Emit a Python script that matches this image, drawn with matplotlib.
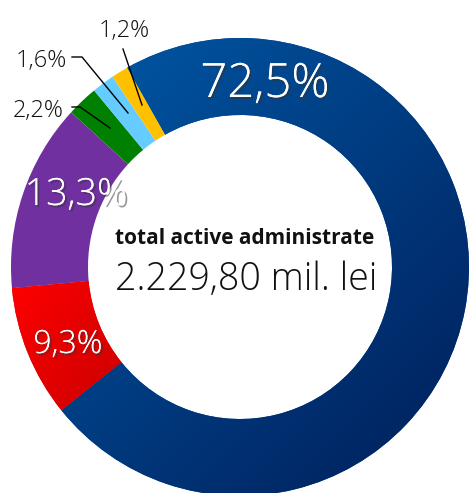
import numpy as np
import matplotlib
matplotlib.use("Agg")
from matplotlib import pyplot as plt
import matplotlib.patheffects as pe
from matplotlib.colors import LinearSegmentedColormap

# slices, clockwise from the top
labels = ["72,5%", "9,3%", "13,3%", "2,2%", "1,6%", "1,2%"]
shares = [72.5, 9.3, 13.3, 2.2, 1.6, 1.2]
colors = ["#00469a", "#e00000", "#7030a0", "#008000", "#66ccff", "#ffc000"]
title = "total active administrate"
total = "2.229,80 mil. lei"

W, H = 470, 493
cx, cy = 240, H - 267
R, ring = 229, 77

plt.rcParams["font.family"] = ["Open Sans", "DejaVu Sans"]

fig = plt.figure(figsize=(W / 100, H / 100), dpi=100)
ax = fig.add_axes([0, 0, 1, 1])

wedges, _ = ax.pie(shares, colors=colors, startangle=119.5, counterclock=False,
                   radius=R, center=(cx, cy),
                   wedgeprops=dict(width=ring, linewidth=0))

# gradient fills for the blue and red slices
def gradient(wedge, c0, c1, box):
    x0, x1, y0, y1 = box
    xx, yy = np.meshgrid(np.linspace(0, 1, 200), np.linspace(0, 1, 200))
    t = (xx + (1 - yy)) / 2
    cmap = LinearSegmentedColormap.from_list("g", [c0, c1])
    im = ax.imshow(t, extent=[x0, x1, y0, y1], origin="lower", cmap=cmap,
                   zorder=wedge.get_zorder() + 0.1, interpolation="bilinear")
    im.set_clip_path(wedge)

gradient(wedges[0], "#005cab", "#001d58", (cx - R, cx + R, cy - R, cy + R))
gradient(wedges[1], "#ff0000", "#bb0000", (cx - R, cx - R + 140, cy - 190, cy - 10))

shadow = [pe.withSimplePatchShadow(offset=(1.5, -1.5), shadow_rgbFace="#333333", alpha=0.5),
          pe.Normal()]

# big labels inside the ring: (x centre, baseline from top, size)
big = {0: (265, 97, 34), 1: (68, 353, 23), 2: (76, 205, 27)}
for i, (tx, ty, fs) in big.items():
    ax.text(tx, H - ty, labels[i], color="white", fontsize=fs, fontweight="light",
            ha="center", va="baseline", path_effects=shadow, zorder=6)

# small labels with leader lines (pixel coords from top)
small = {
    5: ((124, 37), [(123, 49), (142, 105)]),
    4: ((41, 67), [(72, 57), (82, 57), (128, 113)]),
    3: ((38, 117), [(72, 107), (80, 107), (110, 128)]),
}
for i, ((tx, ty), pts) in small.items():
    ax.text(tx, H - ty, labels[i], color="#111111", fontsize=17,
            ha="center", va="baseline", fontweight="light")
    xs = [p[0] for p in pts]
    ys = [H - p[1] for p in pts]
    ax.plot(xs, ys, color="black", linewidth=1, zorder=5)

ax.text(245, H - 239, title, fontsize=15, fontweight="bold",
        ha="center", va="center", color="#111111")
ax.text(246, H - 280, total, fontsize=27, fontweight="light",
        ha="center", va="center", color="#111111")

ax.set_xlim(0, W)
ax.set_ylim(0, H)
ax.set_aspect("equal")
ax.axis("off")

fig.savefig("out.png", dpi=100)
